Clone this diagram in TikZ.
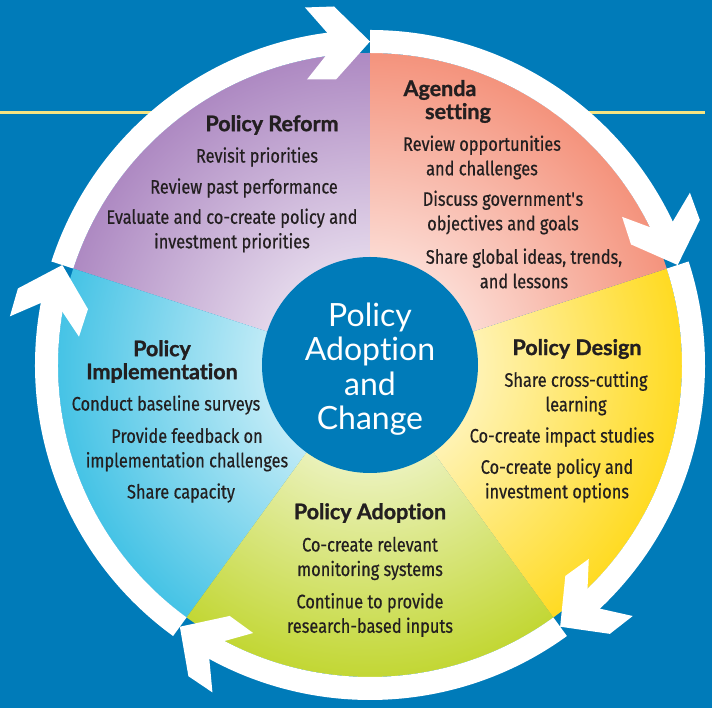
\documentclass[tikz,border=0pt]{standalone}
\usepackage{fontspec}
\setmainfont{Fira Sans}[FakeStretch=0.84, FakeBold=0.5]
\newfontfamily\headfont{Lato}[Ligatures=NoCommon, BoldFeatures={FakeBold=1.2}]

\definecolor{bgblue}{RGB}{0,123,185}
\definecolor{ruleyellow}{RGB}{246,228,130}
\definecolor{inktext}{RGB}{35,31,32}
\definecolor{reformpurple}{RGB}{172,135,193}
\definecolor{agendapink}{RGB}{244,145,122}
\definecolor{designyellow}{RGB}{255,218,30}
\definecolor{adoptgreen}{RGB}{193,214,48}
\definecolor{implblue}{RGB}{66,194,229}

\tikzset{
    heading/.style={font=\headfont\bfseries\fontsize{21.5}{23}\selectfont, text=inktext, align=center, inner sep=0pt},
    item/.style={font=\fontsize{19.5}{24.5}\selectfont, text=inktext, align=center, inner sep=0pt},
    hubnode/.style={circle, fill=bgblue, minimum size=216pt, inner sep=0pt},
    hubtext/.style={text=white, align=center, inner sep=0pt, font=\headfont\fontsize{32}{34.5}\selectfont},
    rule/.style={draw=ruleyellow, line width=3pt},
}

\newcommand{\ringsector}[2]{%
    \begin{scope}
        \clip (0,0) -- (#1:312) arc[start angle=#1, end angle=#1+72, radius=312] -- cycle;
        \shade[inner color=white, outer color=#2] (0,0) circle (318);
    \end{scope}}

\newcommand{\cyclearrow}[1]{%
    \fill[white] ({#1+72}:312) arc[start angle=#1+72, end angle=#1+7, radius=312]
        -- ({#1+7}:335) arc[start angle=#1+7, end angle=#1+72, radius=335] -- cycle;
    \begin{scope}[shift={(#1:323.5)}, rotate=#1-90]
        \fill[white] (-43,9) -- (-65,34) -- (-36,35) -- (0,0) -- (-34,-38) -- (-63,-38) -- (-44,-14) -- cycle;
    \end{scope}}

\begin{document}
\begin{tikzpicture}[x=1pt, y=1pt]
    \path[use as bounding box, fill=bgblue] (-370,-343) rectangle (342,365);

    \coordinate (ruleW) at (-370,252);
    \coordinate (ruleE) at (335,252);
    \draw[rule] (ruleW) -- (ruleE);

    \ringsector{90}{reformpurple}
    \ringsector{162}{implblue}
    \ringsector{-126}{adoptgreen}
    \ringsector{-54}{designyellow}
    \ringsector{18}{agendapink}

    \cyclearrow{90}
    \cyclearrow{18}
    \cyclearrow{-54}
    \cyclearrow{-126}
    \cyclearrow{162}

    \node[hubnode] (hub) at (0,0) {};
    \node[hubtext] (hubLabel) at ([yshift=-4pt]hub.center) {Policy\\Adoption\\and\\Change};

    \node[heading] (reformHead) at (-98,240) {Policy Reform};
    \node[item] (reformA) at (-113,208) {Revisit priorities};
    \node[item] (reformB) at (-126,177) {Review past performance};
    \node[item] (reformC) at (-138,134.5) {Evaluate and co-create policy and\\investment priorities};

    \node[heading] (agendaHead) at (70,263.5) {Agenda\\\hspace*{36pt}setting};
    \node[item] (agendaA) at (112,207.5) {Review opportunities\\and challenges};
    \node[item] (agendaB) at (133,152.5) {Discuss government\textquotesingle s\\objectives and goals};
    \node[item] (agendaC) at (154,96.5) {Share global ideas, trends,\\and lessons};

    \node[heading] (designHead) at (207,16) {Policy Design};
    \node[item] (designA) at (206,-28.5) {Share cross-cutting\\learning};
    \node[item] (designB) at (192,-72) {Co-create impact studies};
    \node[item] (designC) at (187,-115.5) {Co-create policy and\\investment options};

    \node[heading] (adoptHead) at (0,-148) {Policy Adoption};
    \node[item] (adoptA) at (0,-193.5) {Co-create relevant\\monitoring systems};
    \node[item] (adoptB) at (0,-250) {Continue to provide\\research-based inputs};

    \node[heading] (implHead) at (-208,3.5) {Policy\\Implementation};
    \node[item] (implA) at (-204,-40) {Conduct baseline surveys};
    \node[item] (implB) at (-183,-84.5) {Provide feedback on\\implementation challenges};
    \node[item] (implC) at (-189,-128) {Share capacity};
\end{tikzpicture}
\end{document}
